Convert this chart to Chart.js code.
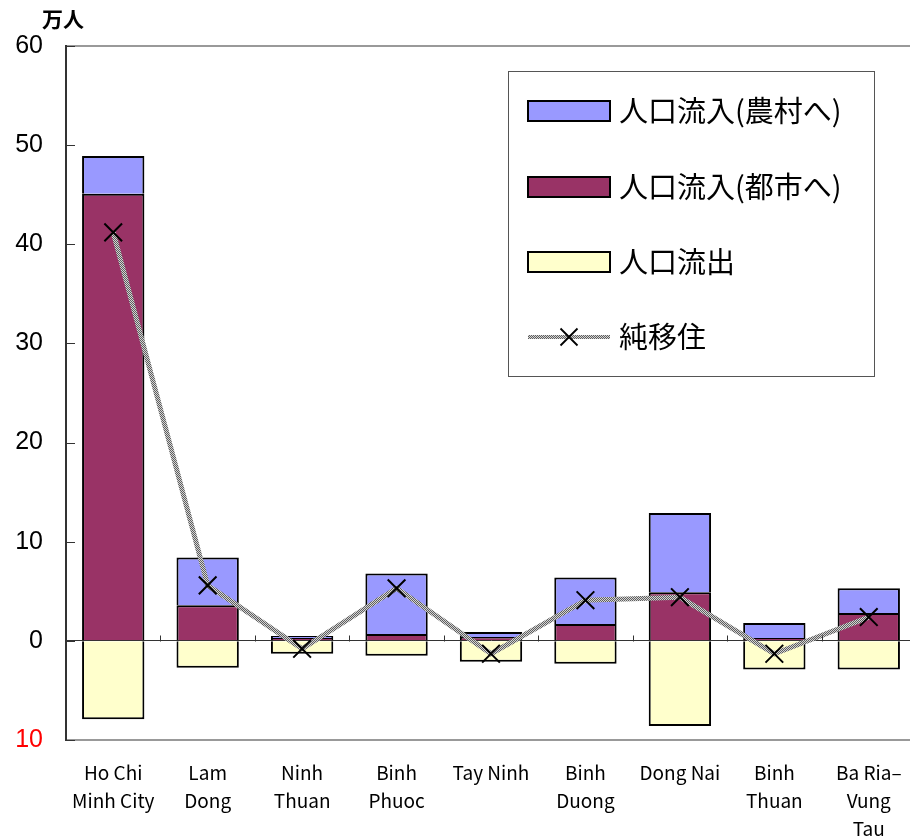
<!DOCTYPE html>
<html lang="ja">
<head>
<meta charset="utf-8">
<title>人口移動</title>
<script src="https://cdn.jsdelivr.net/npm/chart.js@4.4.1/dist/chart.umd.min.js"></script>
<style>
    html, body { margin: 0; padding: 0; background: #fff; overflow: hidden; }
    #migrationChart { display: block; }
</style>
</head>
<body>
<canvas id="migrationChart" width="920" height="838"></canvas>
<script>
// provinces (multi-line labels under the axis)
const provinces = [
    ["Ho Chi", "Minh City"],
    ["Lam", "Dong"],
    ["Ninh", "Thuan"],
    ["Binh", "Phuoc"],
    ["Tay Ninh"],
    ["Binh", "Duong"],
    ["Dong Nai"],
    ["Binh", "Thuan"],
    ["Ba Ria\u2013", "Vung", "Tau"]
];

// 万人
const inflowUrban = [45.1, 3.6, 0.3, 0.7, 0.4, 1.7, 4.9, 0.3, 2.8];
const inflowRural = [3.8, 4.8, 0.2, 6.1, 0.5, 4.7, 8.0, 1.5, 2.5];
const outflow = [-7.9, -2.7, -1.3, -1.5, -2.1, -2.3, -8.6, -2.9, -2.9];
const netMigration = [41.2, 5.6, -0.8, 5.3, -1.3, 4.1, 4.4, -1.3, 2.4];

const yTicks = [60, 50, 40, 30, 20, 10, 0, -10];

const seriesNames = {
    rural: "人口流入(農村へ)",
    urban: "人口流入(都市へ)",
    out: "人口流出",
    net: "純移住"
};

const COLORS = {
    rural: "#9999ff",
    urban: "#993366",
    out: "#ffffcc"
};

const JP_FONT = "'Noto Sans CJK JP', 'Noto Sans', sans-serif";
const NUM_FONT = "'Liberation Sans', Arial, sans-serif";

/* hatched gray stroke for the net line */
function makeLinePattern() {
    const c = document.createElement("canvas");
    c.width = 2;
    c.height = 2;
    const g = c.getContext("2d");
    g.fillStyle = "#d4d4d4";
    g.fillRect(0, 0, 2, 2);
    g.fillStyle = "#5e5e5e";
    g.fillRect(0, 0, 1, 1);
    g.fillRect(1, 1, 1, 1);
    return g.createPattern(c, "repeat");
}
const linePattern = makeLinePattern();

/* unit label, inward ticks, zero-line ticks and the boxed legend */
const decorations = {
    id: "decorations",
    afterDatasetsDraw(chart) {
        const { ctx, chartArea, scales } = chart;
        const x = scales.x;
        const y = scales.y;
        ctx.save();

        // y ticks pointing into the plot
        ctx.strokeStyle = "#333";
        ctx.lineWidth = 1;
        yTicks.forEach(v => {
            const py = Math.round(y.getPixelForValue(v)) + 0.5;
            ctx.beginPath();
            ctx.moveTo(chartArea.left, py);
            ctx.lineTo(chartArea.left + 9, py);
            ctx.stroke();
        });

        // category separators on the zero line
        const zeroY = Math.round(y.getPixelForValue(0)) + 0.5;
        const half = (x.getPixelForValue(1) - x.getPixelForValue(0)) / 2;
        for (let i = 0; i < provinces.length - 1; i++) {
            const px = Math.round(x.getPixelForValue(i) + half) + 0.5;
            ctx.beginPath();
            ctx.moveTo(px, zeroY);
            ctx.lineTo(px, zeroY - 6);
            ctx.stroke();
        }
        ctx.restore();
    },
    afterDraw(chart) {
        const { ctx } = chart;
        ctx.save();

        // unit
        ctx.fillStyle = "#000";
        ctx.font = "bold 21px " + JP_FONT;
        ctx.textAlign = "left";
        ctx.textBaseline = "middle";
        ctx.fillText("万人", 42, 19);

        // legend box
        const box = { x: 508, y: 71, w: 366, h: 305 };
        ctx.fillStyle = "#fff";
        ctx.fillRect(box.x, box.y, box.w, box.h);
        ctx.strokeStyle = "#555";
        ctx.lineWidth = 1;
        ctx.strokeRect(box.x + 0.5, box.y + 0.5, box.w, box.h);

        const rows = [
            { key: "rural", y: 111 },
            { key: "urban", y: 187 },
            { key: "out", y: 262 },
            { key: "net", y: 337 }
        ];
        const sx = 528, sw = 82, sh = 20;
        rows.forEach(r => {
            if (r.key === "net") {
                ctx.strokeStyle = linePattern;
                ctx.lineWidth = 4;
                ctx.beginPath();
                ctx.moveTo(sx, r.y);
                ctx.lineTo(sx + sw, r.y);
                ctx.stroke();
                ctx.strokeStyle = "#000";
                ctx.lineWidth = 1.8;
                const cx = sx + sw / 2, d = 8.5;
                ctx.beginPath();
                ctx.moveTo(cx - d, r.y - d);
                ctx.lineTo(cx + d, r.y + d);
                ctx.moveTo(cx + d, r.y - d);
                ctx.lineTo(cx - d, r.y + d);
                ctx.stroke();
            } else {
                ctx.fillStyle = COLORS[r.key];
                ctx.fillRect(sx, r.y - sh / 2, sw, sh);
                ctx.strokeStyle = "#000";
                ctx.lineWidth = 2;
                ctx.strokeRect(sx, r.y - sh / 2, sw, sh);
            }
            ctx.fillStyle = "#000";
            ctx.font = "29px " + JP_FONT;
            ctx.textAlign = "left";
            ctx.textBaseline = "middle";
            ctx.fillText(seriesNames[r.key], sx + sw + 9, r.y);
        });
        ctx.restore();
    }
};

const ctx = document.getElementById("migrationChart").getContext("2d");

new Chart(ctx, {
    data: {
        labels: provinces,
        datasets: [
            {
                type: "line",
                label: seriesNames.net,
                data: netMigration,
                stack: "net",
                order: 0,
                borderColor: linePattern,
                borderWidth: 5,
                tension: 0,
                pointStyle: "crossRot",
                pointRadius: 12.5,
                pointBorderWidth: 2,
                pointBorderColor: "#000",
                pointBackgroundColor: "#000"
            },
            {
                type: "bar",
                label: seriesNames.urban,
                data: inflowUrban,
                stack: "flow",
                order: 1,
                backgroundColor: COLORS.urban,
                borderColor: "#000",
                borderWidth: 2
            },
            {
                type: "bar",
                label: seriesNames.rural,
                data: inflowRural,
                stack: "flow",
                order: 1,
                backgroundColor: COLORS.rural,
                borderColor: "#000",
                borderWidth: 2
            },
            {
                type: "bar",
                label: seriesNames.out,
                data: outflow,
                stack: "flow",
                order: 1,
                backgroundColor: COLORS.out,
                borderColor: "#000",
                borderWidth: 2
            }
        ]
    },
    options: {
        responsive: false,
        animation: false,
        layout: {
            autoPadding: false,
            padding: { top: 46, right: 4, left: 0, bottom: 0 }
        },
        datasets: {
            bar: { barPercentage: 1, categoryPercentage: 0.66 }
        },
        plugins: {
            legend: { display: false },
            tooltip: { enabled: false }
        },
        scales: {
            x: {
                stacked: true,
                grid: { display: false },
                border: { color: "#999", width: 2 },
                ticks: {
                    color: "#000",
                    font: { family: JP_FONT, size: 19, lineHeight: 1.47 },
                    padding: 11,
                    maxRotation: 0,
                    autoSkip: false
                },
                afterFit(scale) {
                    scale.height = 98;
                    scale.paddingLeft = 0;
                    scale.paddingRight = 0;
                }
            },
            y: {
                stacked: true,
                min: -10,
                max: 60,
                afterBuildTicks(scale) {
                    scale.ticks = yTicks.map(v => ({ value: v }));
                },
                grid: {
                    drawTicks: false,
                    color: c => {
                        if (c.tick.value === 0) return "#333";
                        if (c.tick.value === 60) return "#999";
                        return "rgba(0,0,0,0)";
                    },
                    lineWidth: c => (c.tick.value === 60 ? 2 : 1)
                },
                border: { color: "#333", width: 2 },
                ticks: {
                    padding: 23,
                    color: c => (c.tick.value < 0 ? "#ff0000" : "#000"),
                    font: { family: NUM_FONT, size: 25 },
                    callback: v => Math.abs(v)
                },
                afterFit(scale) {
                    scale.width = 66;
                    scale.paddingTop = 0;
                    scale.paddingBottom = 0;
                }
            }
        }
    },
    plugins: [decorations]
});
</script>
</body>
</html>
